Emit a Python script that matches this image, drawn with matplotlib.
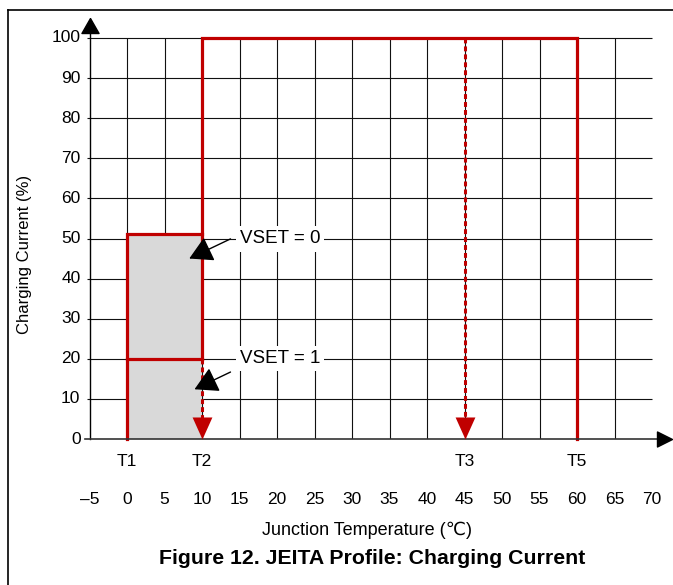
import numpy as np
import matplotlib.pyplot as plt

plt.rcParams['font.family'] = ['Liberation Sans', 'DejaVu Sans']

# temperature thresholds (degC)
threshold_names = ['T1', 'T2', 'T3', 'T5']
threshold_temps = [0, 10, 45, 60]

# charging current levels (% of full current)
vset0_current = 51
vset1_current = 20
full_current = 100

temp_ticks = np.arange(-5, 75, 5)
temp_labels = ['\u20135'] + [str(t) for t in temp_ticks[1:]]
current_ticks = np.arange(0, 110, 10)

red = '#c00000'
grey_fill = '#d9d9d9'

t1, t2, t3, t5 = threshold_temps

fig = plt.figure(figsize=(6.73, 5.85), dpi=100)
ax = fig.add_axes([89.5 / 673, 146 / 585, 562.5 / 673, 401 / 585])
ax.set_xlim(-5, 70)
ax.set_ylim(0, 100)
ax.axis('off')

# grid
ax.hlines(current_ticks[1:], -5.3, 70, color='#111111', lw=0.8, zorder=1, clip_on=False)
ax.vlines(temp_ticks[1:-1], 0, 100, color='#111111', lw=0.8, zorder=1)

# axis lines with arrow heads (tip of marker at origin)
up_tip = [(0, 0), (-0.57, -1), (0.57, -1), (0, 0)]
right_tip = [(0, 0), (-1, 0.5), (-1, -0.5), (0, 0)]
down_tip = [(0, 0), (-0.45, 1), (0.45, 1), (0, 0)]

ax.plot([-5, -5], [0, 101.2], color='black', lw=1.0, clip_on=False, zorder=4)
ax.plot([-5], [105], marker=up_tip, ms=21.6, color='black', clip_on=False, zorder=4)
ax.plot([-5.6, 70.7], [0, 0], color='#333333', lw=1.2, clip_on=False, zorder=4)
ax.plot([72.6], [0], marker=right_tip, ms=21.6, color='black', clip_on=False, zorder=4)

# reduced current region
ax.fill_between([t1, t2], 0, vset0_current, color=grey_fill, lw=0, zorder=2)

# profile outline
ax.plot([t1, t1, t2, t2, t5, t5], [0, vset0_current, vset0_current, full_current, full_current, 0],
        color=red, lw=2.3, zorder=3, solid_joinstyle='miter', clip_on=False)
ax.plot([t2, t2], [vset1_current, vset0_current], color=red, lw=2.3, zorder=3)
ax.plot([t1, t2], [vset1_current, vset1_current], color=red, lw=2.3, zorder=3)

# dashed drops with arrow heads
for x, top in [(t2, vset1_current), (t3, full_current)]:
    ax.plot([x, x], [top, 4], color=red, lw=2.2, dashes=(1.6, 1.0), zorder=3)
    ax.plot([x], [0], marker=down_tip, ms=31.7, color=red, mew=0, zorder=4, clip_on=False)

# VSET annotations
arrow_kw = dict(arrowstyle='-|>,head_length=0.8,head_width=0.45', color='black',
                lw=1.0, mutation_scale=18, shrinkA=0, shrinkB=0)
box_kw = dict(facecolor='white', edgecolor='none', pad=3)
ax.annotate('', xy=(8.3, 45.0), xytext=(13.8, 49.9), arrowprops=arrow_kw, zorder=5)
ax.annotate('', xy=(9.0, 12.4), xytext=(13.8, 16.7), arrowprops=arrow_kw, zorder=5)
ax.text(20.4, 49.9, 'VSET = 0', fontsize=13.5, ha='center', va='center', bbox=box_kw, zorder=6)
ax.text(20.4, 20.0, 'VSET = 1', fontsize=13.5, ha='center', va='center', bbox=box_kw, zorder=6)

# tick labels
for t, lab in zip(temp_ticks, temp_labels):
    ax.text(t, -15.0, lab, fontsize=12.5, ha='center', va='center', clip_on=False)
for name, t in zip(threshold_names, threshold_temps):
    ax.text(t, -5.7, name, fontsize=12.5, ha='center', va='center', clip_on=False)
for c in current_ticks:
    ax.text(-6.2, c, str(c), fontsize=12.5, ha='right', va='center', clip_on=False)

ax.text(-13.7, 46, 'Charging Current (%)', fontsize=12, rotation=90,
        ha='center', va='center', clip_on=False)
fig.text(367 / 673, 1 - 530 / 585, 'Junction Temperature (\u2103)', fontsize=13,
         ha='center', va='center')
fig.text(372 / 673, 1 - 558 / 585, 'Figure 12. JEITA Profile: Charging Current',
         fontsize=15.3, fontweight='bold', ha='center', va='center')

# frame around the figure
fig.add_artist(plt.Line2D([8 / 673, 8 / 673], [0, 1 - 10 / 585], color='black', lw=1.2))
fig.add_artist(plt.Line2D([8 / 673, 1], [1 - 10 / 585, 1 - 10 / 585], color='black', lw=1.2))

fig.savefig('out.png', dpi=100)
